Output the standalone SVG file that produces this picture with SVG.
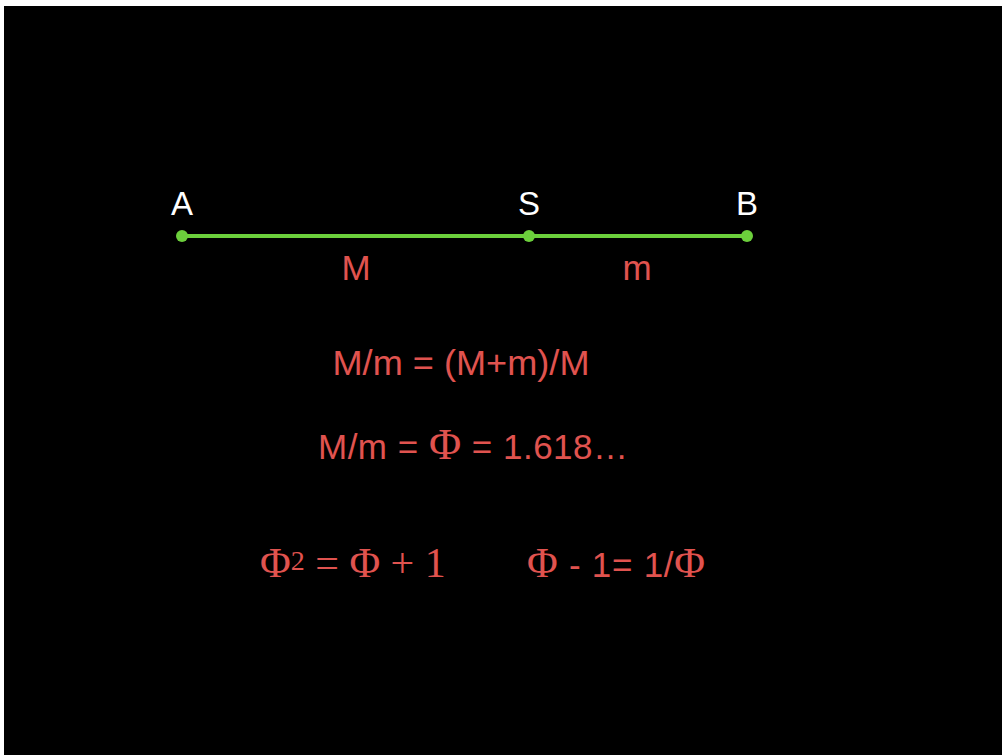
<svg xmlns="http://www.w3.org/2000/svg" width="1002" height="755" viewBox="0 0 1002 755">
<style>
.lbl{font-family:"Liberation Sans",Arial,sans-serif;font-size:33px;fill:#ffffff;text-anchor:middle}
.red{font-family:"Liberation Sans",Arial,sans-serif;font-size:35px;fill:#e0534f}
.ser{font-family:"Liberation Serif","Times New Roman",serif;fill:#e0534f}
.dot{fill:#6ccf3c}
</style>
<rect x="0" y="0" width="1002" height="755" fill="#ffffff"/>
<rect x="4" y="6" width="998" height="749" fill="#000000"/>
<g id="connectors">
<line x1="182" y1="236" x2="747" y2="236" stroke="#6ccf3c" stroke-width="4"/>
</g>
<g id="node-A"><circle class="dot" cx="182" cy="236" r="6"/><text class="lbl" x="182" y="215">A</text></g>
<g id="node-S"><circle class="dot" cx="529" cy="236" r="6"/><text class="lbl" x="529" y="215">S</text></g>
<g id="node-B"><circle class="dot" cx="747" cy="236" r="6"/><text class="lbl" x="747" y="215">B</text></g>
<g id="label-M"><text class="red" x="356" y="280" text-anchor="middle" font-size="33">M</text></g>
<g id="label-m"><text class="red" x="637" y="280" text-anchor="middle" font-size="33">m</text></g>
<g id="eq1"><text class="red" x="461" y="375" text-anchor="middle" textLength="257" lengthAdjust="spacingAndGlyphs">M/m = (M+m)/M</text></g>
<g id="eq2"><text class="red" x="318" y="459" textLength="310" lengthAdjust="spacing">M/m = <tspan class="ser" font-size="44">Φ</tspan> = 1.618…</text></g>
<g id="eq3"><text class="ser" x="260" y="577" font-size="42">Φ<tspan font-size="28" dy="-7">2</tspan><tspan dy="7"> = Φ + 1</tspan></text></g>
<g id="eq4"><text class="red" x="527" y="577" textLength="178" lengthAdjust="spacing"><tspan class="ser" font-size="42">Φ</tspan> - 1= 1/<tspan class="ser" font-size="42">Φ</tspan></text></g>
</svg>
